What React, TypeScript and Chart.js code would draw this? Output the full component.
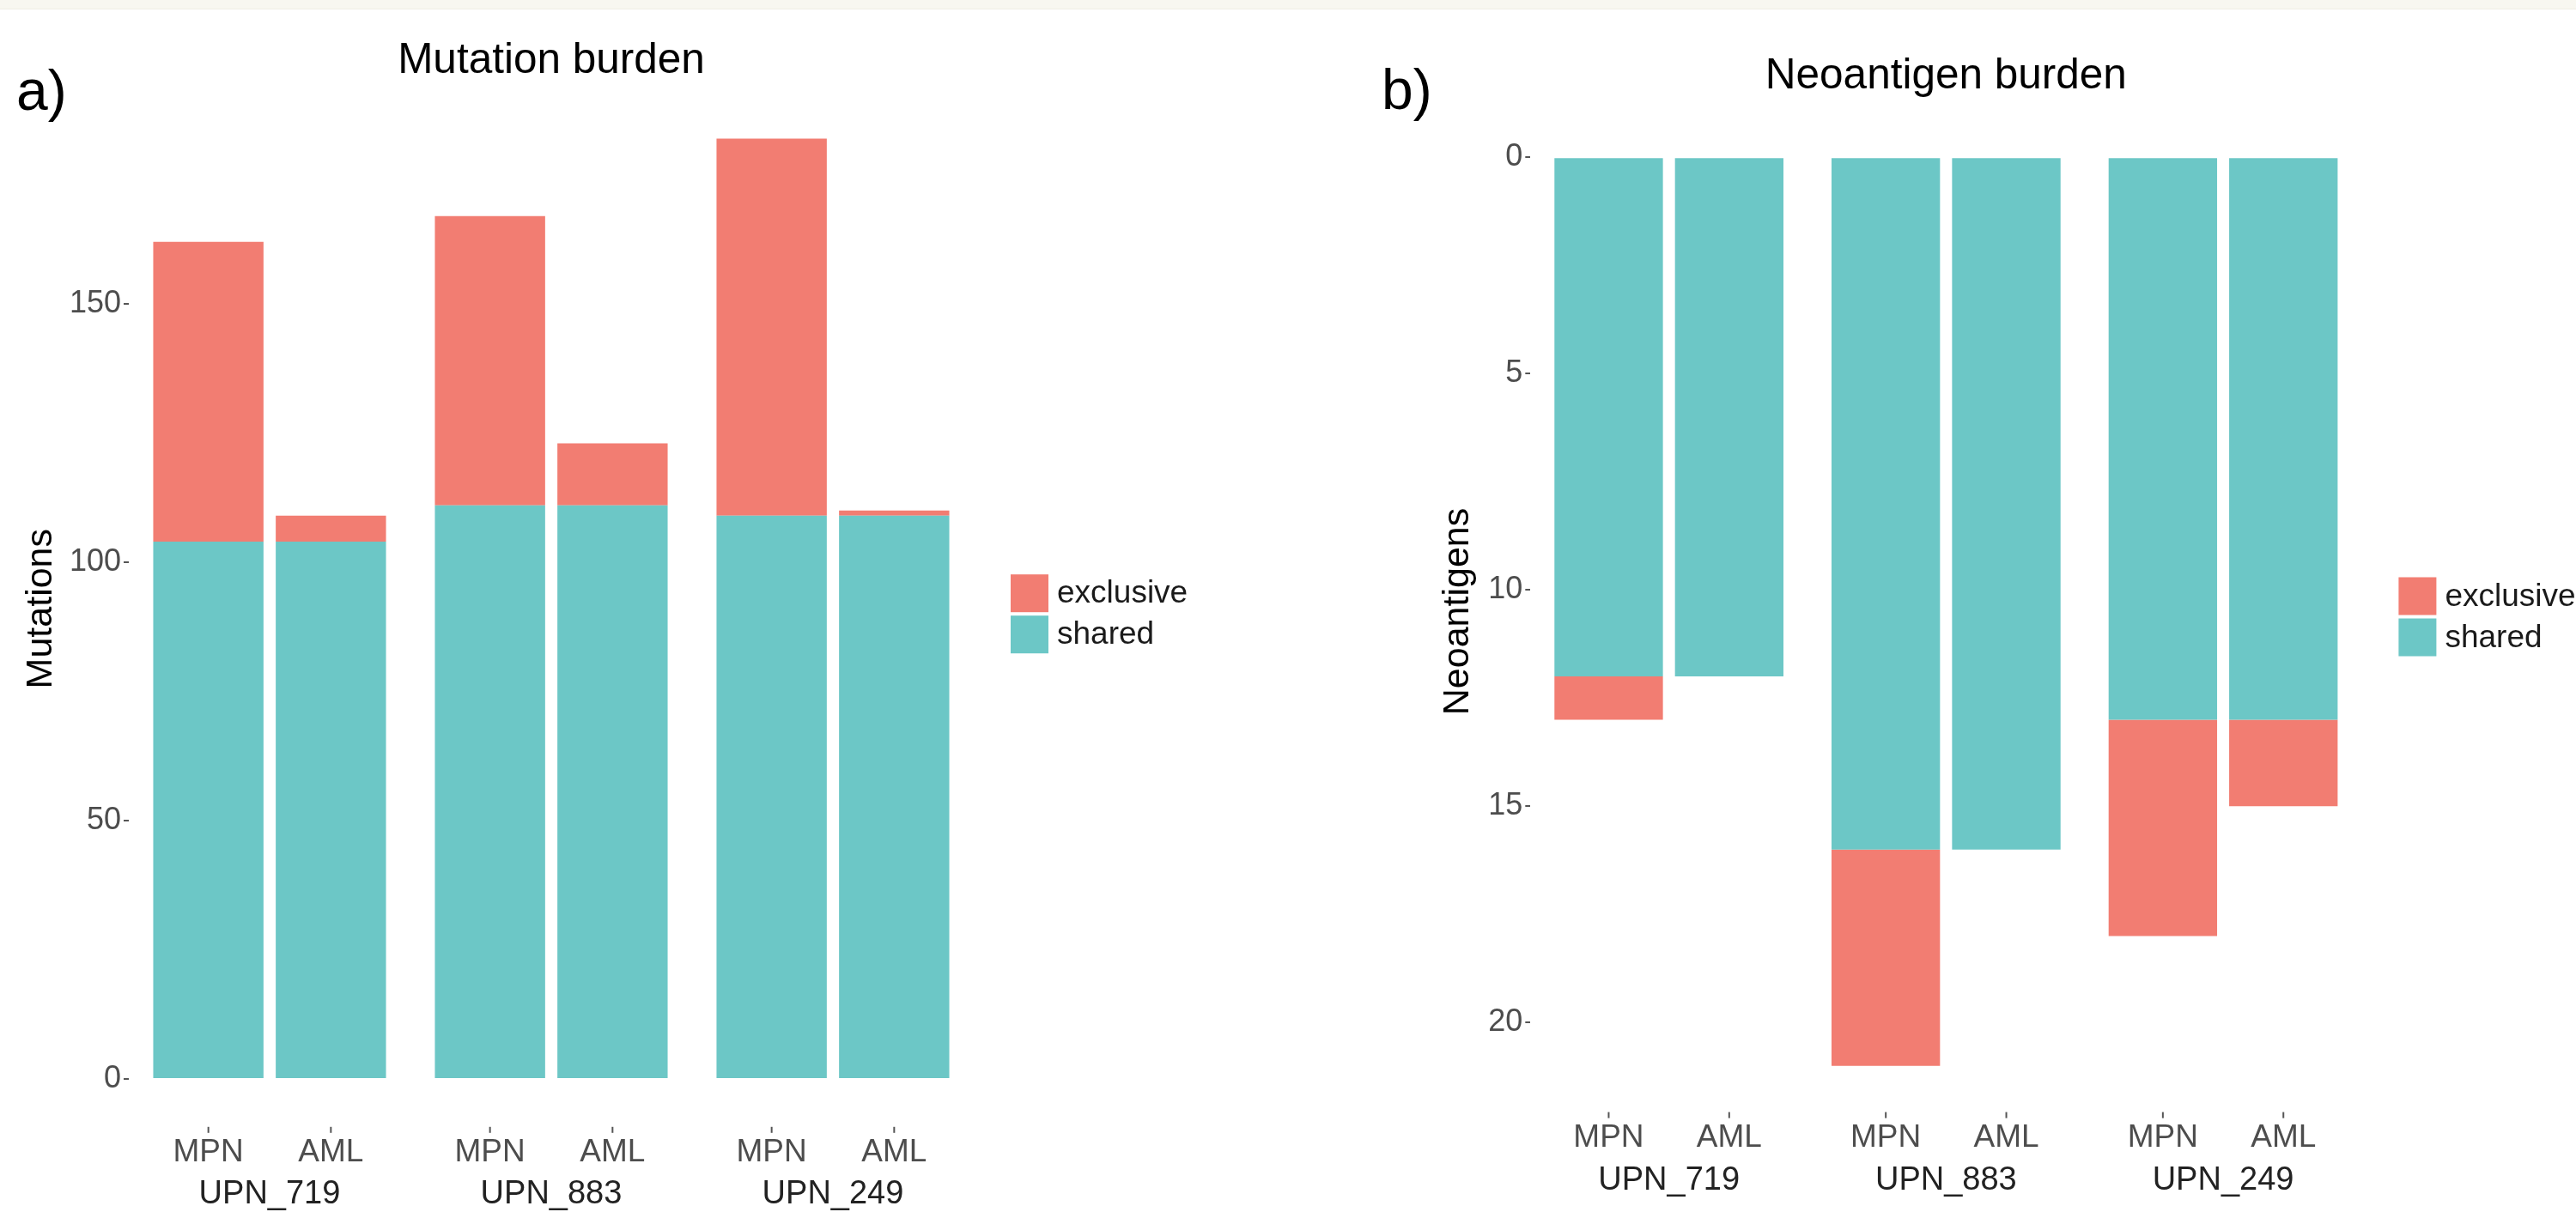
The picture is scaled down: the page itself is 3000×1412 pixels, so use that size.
import React, { useEffect, useRef } from 'react';
import { Chart, registerables } from 'chart.js';

Chart.register(...registerables);

// ---------- data ----------
const patients = ['UPN_719', 'UPN_883', 'UPN_249'];
const samples = ['MPN', 'AML'];

const mutSharedMPN = [104, 111, 109];
const mutExclusiveMPN = [58, 56, 73];
const mutSharedAML = [104, 111, 109];
const mutExclusiveAML = [5, 12, 1];
const mutTicks = [0, 50, 100, 150];

const neoSharedMPN = [12, 16, 13];
const neoExclusiveMPN = [1, 5, 5];
const neoSharedAML = [12, 16, 13];
const neoExclusiveAML = [0, 0, 2];
const neoTicks = [0, 5, 10, 15, 20];

const legendLabels = ['exclusive', 'shared'];

// ---------- style ----------
const COLOR_EXCL = '#F27D72';
const COLOR_SHARED = '#6CC7C6';
const FONT = "'Liberation Sans', Arial, Helvetica, sans-serif";

interface Layout {
  left: number;
  yWidth: number;
  padRight: number;
  titleTop: number;
  titleBottom: number;
  xHeight: number;
  xPad: number;
  yTitlePad: number;
  letterX: number;
  letterY: number;
}

interface PanelCfg {
  title: string;
  letter: string;
  yTitle: string;
  shared: number[][];
  exclusive: number[][];
  ticks: number[];
  reverse: boolean;
  L: Layout;
}

const panelA: PanelCfg = {
  title: 'Mutation burden',
  letter: 'a)',
  yTitle: 'Mutations',
  shared: [mutSharedMPN, mutSharedAML],
  exclusive: [mutExclusiveMPN, mutExclusiveAML],
  ticks: mutTicks,
  reverse: false,
  L: {
    left: 0,
    yWidth: 150,
    padRight: 366,
    titleTop: 41.3,
    titleBottom: 5.9,
    xHeight: 100.2,
    xPad: 57.2,
    yTitlePad: 22.2,
    letterX: 19,
    letterY: 128,
  },
};

const panelB: PanelCfg = {
  title: 'Neoantigen burden',
  letter: 'b)',
  yTitle: 'Neoantigens',
  shared: [neoSharedMPN, neoSharedAML],
  exclusive: [neoExclusiveMPN, neoExclusiveAML],
  ticks: neoTicks,
  reverse: true,
  L: {
    left: 1500,
    yWidth: 282.3,
    padRight: 249.6,
    titleTop: 60.1,
    titleBottom: 10.9,
    xHeight: 117.4,
    xPad: 58.4,
    yTitlePad: 172.2,
    letterX: 109,
    letterY: 127,
  },
};

function buildChart(canvas: HTMLCanvasElement, cfg: PanelCfg): Chart {
  const L = cfg.L;
  const totals = cfg.shared.flatMap((arr, i) => arr.map((v, j) => v + cfg.exclusive[i][j]));
  const maxTotal = Math.max(...totals);
  const yMin = -maxTotal * 0.05;
  const yMax = maxTotal * 1.05;

  const datasets: any[] = [];
  samples.forEach((s, i) => {
    datasets.push({ label: 'shared', stack: s, data: cfg.shared[i], backgroundColor: COLOR_SHARED, borderWidth: 0 });
    datasets.push({ label: 'exclusive', stack: s, data: cfg.exclusive[i], backgroundColor: COLOR_EXCL, borderWidth: 0 });
  });

  const decor = {
    id: 'decor',
    afterDraw(chart: any) {
      const { ctx, chartArea } = chart;
      ctx.save();
      // panel letter
      ctx.font = `66px ${FONT}`;
      ctx.fillStyle = '#000';
      ctx.textAlign = 'left';
      ctx.textBaseline = 'alphabetic';
      ctx.fillText(cfg.letter, L.letterX, L.letterY);

      // sample tick marks and labels under each bar
      chart.data.datasets.forEach((ds: any, di: number) => {
        if (ds.label !== 'shared') return;
        const meta = chart.getDatasetMeta(di);
        meta.data.forEach((el: any) => {
          const x = el.x;
          ctx.strokeStyle = '#555';
          ctx.lineWidth = 2;
          ctx.beginPath();
          ctx.moveTo(x, chartArea.bottom + 1);
          ctx.lineTo(x, chartArea.bottom + 8);
          ctx.stroke();
          ctx.font = `37px ${FONT}`;
          ctx.fillStyle = '#4d4d4d';
          ctx.textAlign = 'center';
          ctx.textBaseline = 'middle';
          ctx.fillText(ds.stack, x, chartArea.bottom + 31);
        });
      });

      // legend
      const key = 44;
      const kx = chartArea.right + 43;
      const cy = (chartArea.top + chartArea.bottom) / 2;
      legendLabels.forEach((lab, i) => {
        const ky = cy - 40 + i * 48;
        ctx.fillStyle = lab === 'exclusive' ? COLOR_EXCL : COLOR_SHARED;
        ctx.fillRect(kx, ky, key, key);
        ctx.fillStyle = '#1a1a1a';
        ctx.font = `37px ${FONT}`;
        ctx.textAlign = 'left';
        ctx.textBaseline = 'middle';
        ctx.fillText(lab, kx + key + 10, ky + key / 2 + 1);
      });
      ctx.restore();
    },
  };

  return new Chart(canvas, {
    type: 'bar',
    data: { labels: patients, datasets },
    plugins: [decor],
    options: {
      responsive: false,
      animation: false,
      events: [],
      layout: { padding: { left: 0, right: L.padRight, top: 0, bottom: 0 } },
      datasets: { bar: { categoryPercentage: 0.87, barPercentage: 0.9 } },
      plugins: {
        legend: { display: false },
        tooltip: { enabled: false },
        title: {
          display: true,
          text: cfg.title,
          fullSize: false,
          color: '#000',
          font: { family: FONT, size: 49.5, weight: 'normal', lineHeight: 1.2 },
          padding: { top: L.titleTop, bottom: L.titleBottom },
        },
      },
      scales: {
        x: {
          type: 'category',
          stacked: true,
          offset: true,
          grid: { display: false, drawTicks: false },
          border: { display: false },
          ticks: {
            font: { family: FONT, size: 38 },
            color: '#222',
            padding: L.xPad,
            autoSkip: false,
            maxRotation: 0,
            minRotation: 0,
          },
          afterFit: (s: any) => {
            s.height = L.xHeight;
          },
        },
        y: {
          type: 'linear',
          stacked: true,
          reverse: cfg.reverse,
          min: yMin,
          max: yMax,
          grid: { display: true, drawOnChartArea: false, drawTicks: true, tickLength: 6, color: '#555', lineWidth: 2 },
          border: { display: false },
          ticks: { font: { family: FONT, size: 36 }, color: '#4d4d4d', padding: 3 },
          afterBuildTicks: (s: any) => {
            s.ticks = cfg.ticks.map((v) => ({ value: v }));
          },
          title: {
            display: true,
            text: cfg.yTitle,
            color: '#000',
            font: { family: FONT, size: 43, lineHeight: 1.2 },
            padding: { top: L.yTitlePad, bottom: 0 },
          },
          afterFit: (s: any) => {
            s.width = L.yWidth;
          },
        },
      },
    } as any,
  });
}

function Panel({ cfg }: { cfg: PanelCfg }) {
  const ref = useRef<HTMLCanvasElement | null>(null);
  useEffect(() => {
    if (!ref.current) return;
    const chart = buildChart(ref.current, cfg);
    return () => chart.destroy();
  }, [cfg]);
  return (
    <canvas
      ref={ref}
      width={1500}
      height={1412}
      style={{ position: 'absolute', left: cfg.L.left, top: 0, width: 1500, height: 1412 }}
    />
  );
}

export default function App() {
  return (
    <div style={{ position: 'absolute', left: 0, top: 0, width: 3000, height: 1412, background: '#ffffff', overflow: 'hidden' }}>
      <Panel cfg={panelA} />
      <Panel cfg={panelB} />
      <div style={{ position: 'absolute', left: 0, top: 0, width: 3000, height: 10, background: '#f8f7f0', borderBottom: '1px solid #f0eee4' }} />
    </div>
  );
}
